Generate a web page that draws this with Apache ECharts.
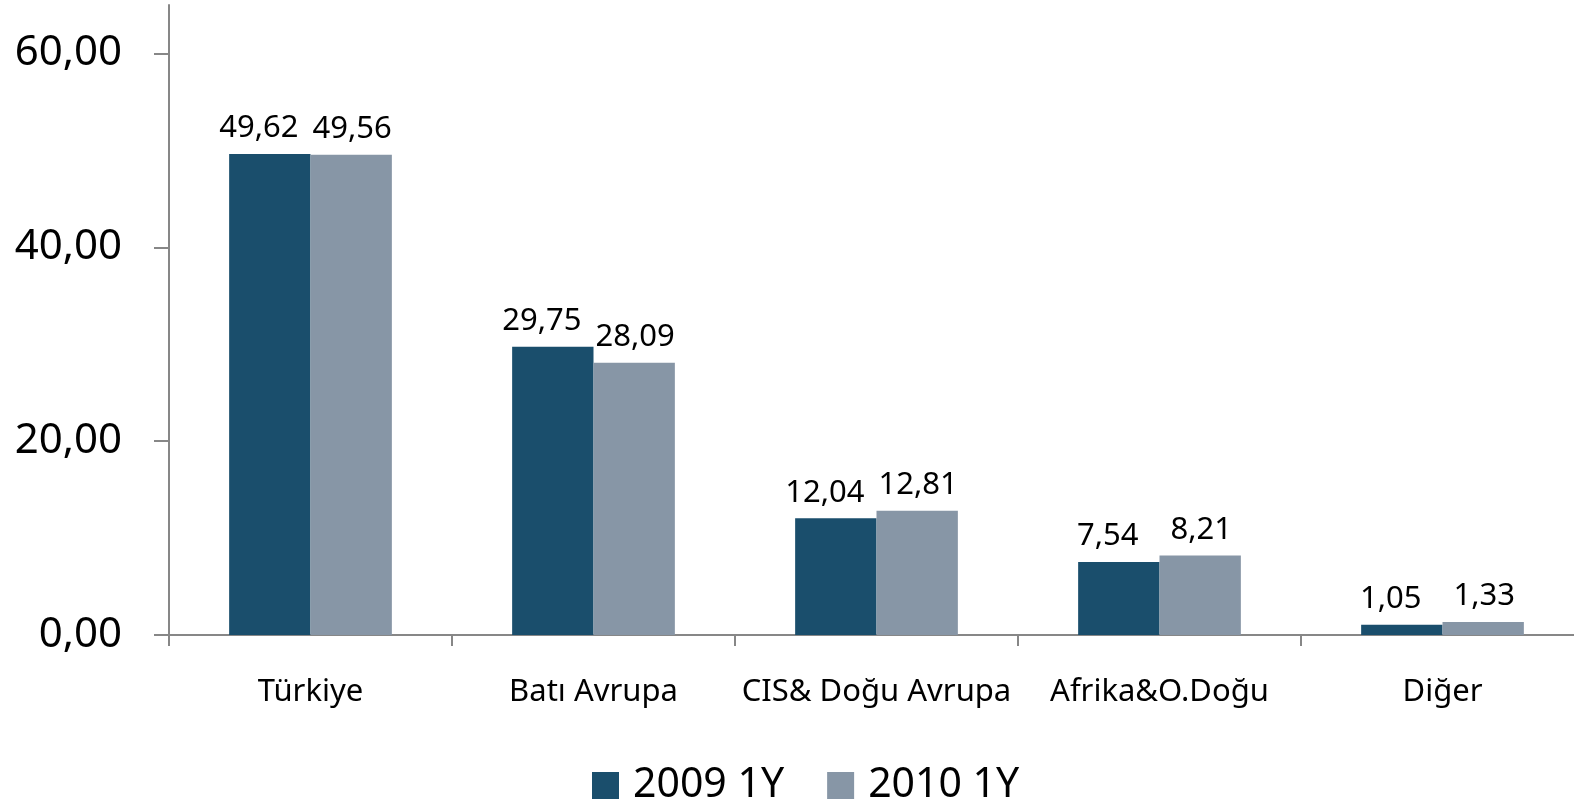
<!DOCTYPE html>
<html>
<head>
<meta charset="utf-8">
<script src="https://cdn.jsdelivr.net/npm/echarts@6/dist/echarts.min.js"></script>
<style>
html,body{margin:0;padding:0;background:#fff;}
#chart{width:1574px;height:804px;}
</style>
</head>
<body>
<div id="chart"></div>
<script>
const categories = ['Türkiye', 'Batı Avrupa', 'CIS& Doğu Avrupa', 'Afrika&O.Doğu', 'Diğer'];
const series2009 = [49.62, 29.75, 12.04, 7.54, 1.05];
const series2010 = [49.56, 28.09, 12.81, 8.21, 1.33];
const seriesNames = ['2009 1Y', '2010 1Y'];
const yTicks = [0, 20, 40, 60];

const FONT = 'Noto Sans';
const fmt = v => Number(v).toFixed(2).replace('.', ',');

const chart = echarts.init(document.getElementById('chart'), null, {renderer: 'canvas'});

function labelStyle(dx) {
  return {
    show: true,
    position: 'top',
    distance: 10,
    offset: [dx, 0],
    fontFamily: FONT,
    fontSize: 31,
    color: '#000',
    formatter: p => fmt(p.value)
  };
}

chart.setOption({
  animation: false,
  backgroundColor: '#fff',
  textStyle: {fontFamily: FONT},
  grid: {left: 169, right: -10, top: 5, bottom: 169, containLabel: false, outerBoundsMode: 'none'},
  legend: {
    data: seriesNames,
    left: 587,
    top: 760,
    icon: 'rect',
    itemWidth: 27,
    itemHeight: 27,
    itemGap: 43,
    textStyle: {fontFamily: FONT, fontSize: 41, color: '#000', padding: [0, 0, 0, 9]}
  },
  xAxis: {
    type: 'category',
    data: categories,
    axisLine: {lineStyle: {color: '#878787', width: 2}},
    axisTick: {show: true, length: 11, lineStyle: {color: '#878787', width: 2}},
    axisLabel: {fontFamily: FONT, fontSize: 31, color: '#000', margin: 42, interval: 0}
  },
  yAxis: {
    type: 'value',
    min: 0,
    max: 65,
    axisLine: {show: true, lineStyle: {color: '#878787', width: 2}},
    axisTick: {show: true, length: 15, lineStyle: {color: '#878787', width: 2}, customValues: yTicks},
    axisLabel: {fontFamily: FONT, fontSize: 42, color: '#000', margin: 47, customValues: yTicks, formatter: v => fmt(v)},
    splitLine: {show: false}
  },
  series: [
    {
      name: seriesNames[0],
      type: 'bar',
      data: series2009,
      barGap: '0%',
      barCategoryGap: '42.5%',
      itemStyle: {color: '#1A4E6C'},
      label: labelStyle(-11)
    },
    {
      name: seriesNames[1],
      type: 'bar',
      data: series2010,
      barGap: '0%',
      barCategoryGap: '42.5%',
      itemStyle: {color: '#8796A6'},
      label: labelStyle(1)
    }
  ]
});
</script>
</body>
</html>
